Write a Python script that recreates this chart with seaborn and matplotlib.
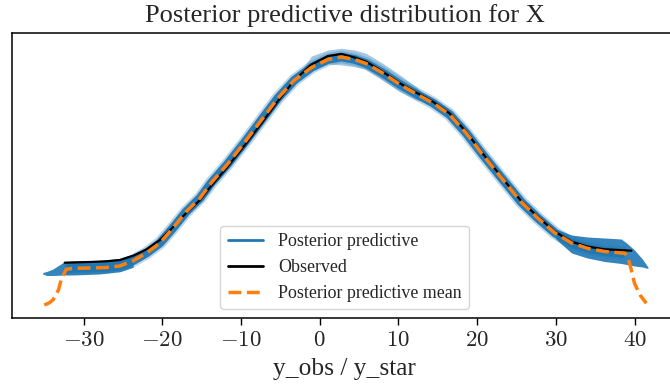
import numpy as np
import pandas as pd
import matplotlib
matplotlib.use("Agg")
import matplotlib.pyplot as plt
import seaborn as sns
from matplotlib.lines import Line2D
from matplotlib.ticker import FuncFormatter

# ---- data (density in units of 1e-4) ----
obs_x = [-32.4, -29.2, -27.1, -25.4, -23.7, -22.0, -20.3, -18.7, -17.0, -15.2, -13.8,
         -11.7, -9.5, -7.4, -5.3, -3.2, -1.05, 1.05, 2.75, 4.45, 5.9, 8.0, 10.2, 12.3,
         14.4, 16.5, 18.6, 20.7, 22.9, 24.1, 25.6, 27.7, 29.9, 32.0, 34.1, 36.2, 39.6]
obs_y = [42.3, 43.0, 43.7, 45.0, 49.3, 55.7, 65.0, 77.5, 91.7, 105.0, 119.0,
         138.3, 160.0, 181.7, 204.0, 225.0, 240.5, 249.0, 251.0, 247.5, 243.3, 233.3, 221.7, 212.3,
         203.3, 191.7, 173.3, 151.7, 130.0, 118.3, 104.0, 88.3, 73.3, 63.3, 58.3, 55.7, 54.3]

mean_x = [-35.0, -34.4, -33.9, -33.2, -32.8, -32.2, -31.3, -29.2, -27.1, -25.4, -23.7,
          -22.0, -20.3, -18.7, -17.0, -15.2, -13.8, -11.7, -9.5, -7.4, -5.3, -3.2, -1.05,
          1.05, 2.75, 4.45, 5.9, 8.0, 10.2, 12.3, 14.4, 16.5, 18.6, 20.7, 22.9, 24.1, 25.6,
          27.7, 29.9, 32.0, 34.1, 36.2, 38.8, 39.2, 39.6, 40.0, 40.7, 41.5]
mean_y = [0.0, 2.0, 5.0, 15.0, 26.7, 35.7, 36.7, 37.0, 37.5, 39.0, 44.3,
          52.0, 62.0, 76.5, 93.0, 107.0, 122.0, 141.0, 163.0, 185.0, 207.0, 225.0, 237.5,
          245.5, 248.0, 245.5, 241.5, 232.0, 220.5, 211.0, 202.0, 190.5, 172.0, 150.5, 129.0,
          117.5, 103.0, 87.0, 72.0, 62.0, 56.5, 53.5, 51.7, 46.7, 35.0, 21.7, 10.0, 1.7]

# posterior predictive spread: left tail, peak and right tail envelopes
ppl_x = [-35.2, -34.7, -33.9, -32.4, -31.3, -28.0, -25.4, -23.7]
ppl_lo = [31.0, 29.5, 29.5, 30.0, 30.0, 31.0, 33.3, 37.7]
ppl_hi = [32.5, 33.5, 36.0, 43.5, 44.0, 44.5, 46.5, 51.0]
ppc_x = [-3.2, -1.05, 1.05, 2.75, 4.45, 5.9, 8.0, 10.2, 12.3, 14.4]
ppc_lo = [225.0, 235.0, 241.0, 240.0, 238.3, 235.7, 225.0, 213.3, 205.0, 202.0]
ppc_hi = [225.0, 249.0, 255.0, 256.7, 255.0, 251.7, 241.7, 230.0, 218.0, 202.0]
ppr_x = [30.0, 32.0, 34.0, 36.2, 38.3, 39.0, 40.0, 41.0, 41.7]
ppr_lo = [66.0, 52.0, 47.0, 43.5, 41.5, 40.5, 39.0, 38.0, 36.5]
ppr_hi = [76.0, 70.0, 68.0, 67.0, 66.0, 62.0, 55.0, 46.0, 38.0]

xticks = [-30, -20, -10, 0, 10, 20, 30, 40]
SCALE = 1e-4

sns.set_style("ticks")
plt.rcParams["font.family"] = ["Liberation Serif", "DejaVu Serif"]
plt.rcParams["mathtext.fontset"] = "cm"

fig = plt.figure(figsize=(6.7, 3.85), dpi=100)
ax = fig.add_axes([12 / 670, 1 - 318 / 385, (677 - 12) / 670, (318 - 33) / 385])

C0 = "#1f77b4"
C1 = "#ff7f0e"

obs = pd.DataFrame({"x": obs_x, "y": np.array(obs_y) * SCALE})
mean = pd.DataFrame({"x": mean_x, "y": np.array(mean_y) * SCALE})
band = mean[(mean.x >= -32.2) & (mean.x <= 38.8)]

# posterior predictive spread
for bx, blo, bhi, a in [(ppl_x, ppl_lo, ppl_hi, 0.9),
                        (ppc_x, ppc_lo, ppc_hi, 0.4),
                        (ppr_x, ppr_lo, ppr_hi, 0.9)]:
    ax.fill_between(bx, np.array(blo) * SCALE, np.array(bhi) * SCALE,
                    color=C0, alpha=a, lw=0, zorder=1)
sns.lineplot(data=band, x="x", y="y", ax=ax, color=C0, lw=9, alpha=0.3,
             sort=False, zorder=1, solid_capstyle="butt")
sns.lineplot(data=band, x="x", y="y", ax=ax, color=C0, lw=6.2, alpha=0.95,
             sort=False, zorder=1, solid_capstyle="butt")

sns.lineplot(data=obs, x="x", y="y", ax=ax, color="black", lw=1.6, sort=False, zorder=3)
sns.lineplot(data=mean, x="x", y="y", ax=ax, color=C1, lw=2.5, linestyle="--",
             sort=False, zorder=4)

ax.set_xlim(-39.1, 45.4)
ax.set_ylim(-13 * SCALE, 272 * SCALE)
ax.set_xticks(xticks)
ax.xaxis.set_major_formatter(FuncFormatter(lambda v, p: f"${v:g}$"))
ax.tick_params(axis="x", labelsize=16.5, length=5, width=1, color="black")
ax.set_yticks([])
ax.set_ylabel("")
for s in ax.spines.values():
    s.set_visible(True)
    s.set_color("black")
    s.set_linewidth(1.1)

ax.set_xlabel("y_obs / y_star", fontsize=18.3, labelpad=5)
ax.set_title("Posterior predictive distribution for X", fontsize=19, pad=8)

handles = [Line2D([], [], color=C0, lw=2),
           Line2D([], [], color="black", lw=2),
           Line2D([], [], color=C1, lw=2.5, linestyle="--")]
labels = ["Posterior predictive", "Observed", "Posterior predictive mean"]
ax.legend(handles, labels, loc="lower center", fontsize=12.9, frameon=True)

fig.savefig("out.png", dpi=100)
